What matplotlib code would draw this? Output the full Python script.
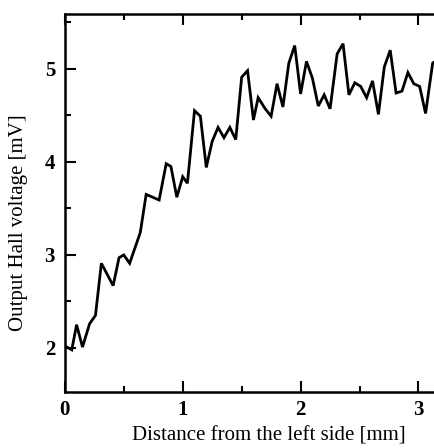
import matplotlib
matplotlib.use("Agg")
import matplotlib.pyplot as plt
from matplotlib.ticker import MultipleLocator

distance_mm = [0.017, 0.059, 0.10, 0.15, 0.21, 0.26, 0.31, 0.41, 0.46, 0.50, 0.55,
               0.64, 0.69, 0.80, 0.86, 0.90, 0.95, 1.00, 1.04, 1.10, 1.15, 1.20,
               1.25, 1.30, 1.35, 1.40, 1.45, 1.50, 1.55, 1.60, 1.64, 1.70, 1.75,
               1.80, 1.85, 1.90, 1.95, 2.00, 2.05, 2.10, 2.15, 2.20, 2.25, 2.31,
               2.36, 2.41, 2.46, 2.51, 2.56, 2.61, 2.66, 2.71, 2.76, 2.81, 2.86,
               2.91, 2.96, 3.01, 3.06, 3.12, 3.14]
voltage_mV = [2.01, 1.98, 2.25, 2.01, 2.26, 2.35, 2.91, 2.67, 2.97, 3.00, 2.91,
              3.24, 3.65, 3.59, 3.98, 3.95, 3.62, 3.84, 3.77, 4.55, 4.49, 3.94,
              4.22, 4.37, 4.26, 4.37, 4.24, 4.91, 4.98, 4.45, 4.69, 4.57, 4.49,
              4.84, 4.59, 5.06, 5.25, 4.73, 5.08, 4.90, 4.60, 4.72, 4.57, 5.16,
              5.27, 4.72, 4.85, 4.81, 4.69, 4.87, 4.51, 5.02, 5.20, 4.74, 4.76,
              4.96, 4.84, 4.81, 4.52, 5.06, 5.08]

x_ticks = [0, 1, 2, 3]
y_ticks = [2, 3, 4, 5]

plt.rcParams['font.family'] = ['Liberation Serif', 'DejaVu Serif']

fig = plt.figure(figsize=(4.35, 4.48), dpi=100)
ax = fig.add_axes([0.149, 0.125, 0.851, 0.844])
ax.plot(distance_mm, voltage_mV, color='black', lw=2.0, solid_joinstyle='miter')

ax.set_xlim(0, 3.14)
ax.set_ylim(1.527, 5.59)
ax.set_xticks(x_ticks)
ax.set_yticks(y_ticks)
ax.xaxis.set_minor_locator(MultipleLocator(0.5))
ax.yaxis.set_minor_locator(MultipleLocator(0.5))
ax.tick_params(which='both', direction='in', top=True, right=False,
               width=1.5, labelsize=15)
ax.tick_params(which='major', length=8)
ax.tick_params(which='minor', length=4)
for lab in ax.get_xticklabels() + ax.get_yticklabels():
    lab.set_fontweight('bold')
ax.tick_params(axis='x', pad=6)
ax.tick_params(axis='y', pad=7)
ax.spines['right'].set_visible(False)
for s in ['left', 'top', 'bottom']:
    ax.spines[s].set_linewidth(1.8)

ax.set_xlabel('Distance from the left side [mm]', fontsize=15)
ax.set_ylabel('Output Hall voltage [mV]', fontsize=15)
ax.xaxis.set_label_coords(0.55, -0.092)
ax.yaxis.set_label_coords(-0.10, 0.447)

fig.savefig('out.png', dpi=100)
